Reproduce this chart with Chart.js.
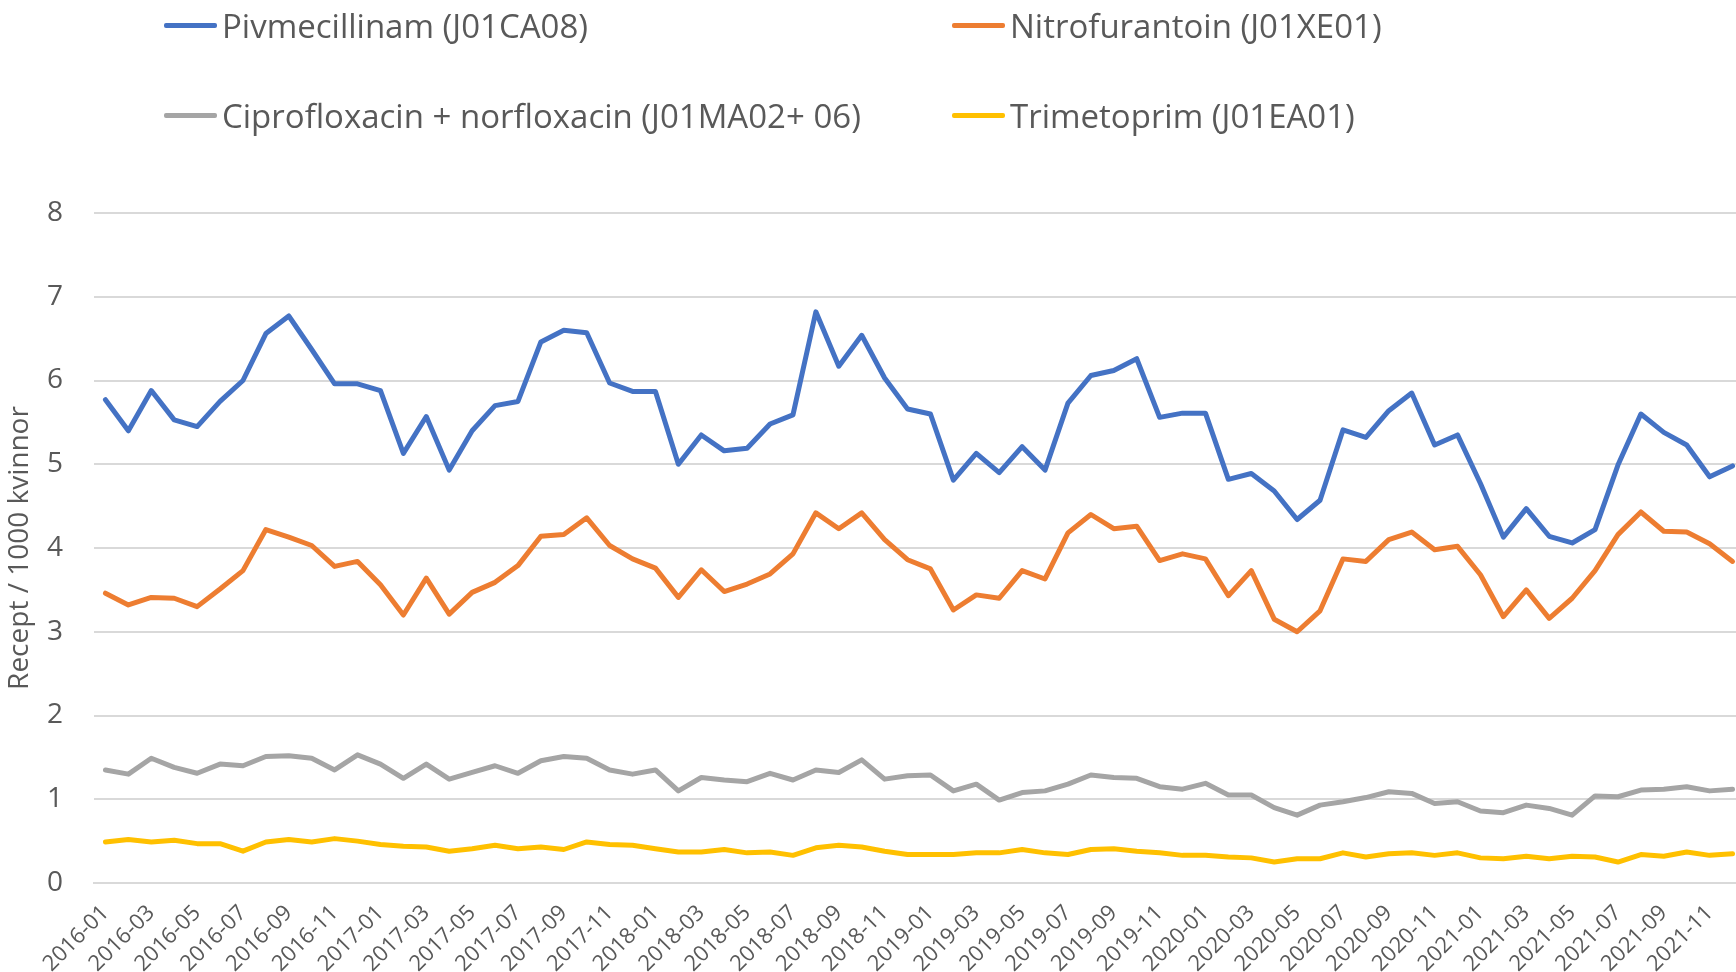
<!DOCTYPE html>
<html>
<head>
<meta charset="utf-8">
<script src="https://cdn.jsdelivr.net/npm/chart.js@4.4.0/dist/chart.umd.min.js"></script>
<style>
  html, body { margin: 0; padding: 0; background: #fff; overflow: hidden; }
  #wrap { position: relative; width: 1744px; height: 972px; }
  #legend { position: absolute; left: 0; top: 0; font-family: "Open Sans", sans-serif; font-size: 33px; color: #595959; }
  .item { position: absolute; display: flex; align-items: center; white-space: nowrap; height: 40px; }
  .swatch { width: 53px; height: 5px; margin-right: 5px; border-radius: 2px; }
</style>
</head>
<body>
<div id="wrap">
  <canvas id="myChart"></canvas>
  <div id="legend"></div>
</div>
<script>
var months = [
  '2016-01','2016-02','2016-03','2016-04','2016-05','2016-06','2016-07','2016-08','2016-09','2016-10','2016-11','2016-12',
  '2017-01','2017-02','2017-03','2017-04','2017-05','2017-06','2017-07','2017-08','2017-09','2017-10','2017-11','2017-12',
  '2018-01','2018-02','2018-03','2018-04','2018-05','2018-06','2018-07','2018-08','2018-09','2018-10','2018-11','2018-12',
  '2019-01','2019-02','2019-03','2019-04','2019-05','2019-06','2019-07','2019-08','2019-09','2019-10','2019-11','2019-12',
  '2020-01','2020-02','2020-03','2020-04','2020-05','2020-06','2020-07','2020-08','2020-09','2020-10','2020-11','2020-12',
  '2021-01','2021-02','2021-03','2021-04','2021-05','2021-06','2021-07','2021-08','2021-09','2021-10','2021-11','2021-12'
];

var pivmecillinam = [
  5.77,5.40,5.88,5.53,5.45,5.75,6.00,6.56,6.77,6.37,5.96,5.96,
  5.88,5.13,5.57,4.93,5.40,5.70,5.75,6.46,6.60,6.57,5.97,5.87,
  5.87,5.00,5.35,5.16,5.19,5.48,5.59,6.82,6.17,6.54,6.03,5.66,
  5.60,4.81,5.13,4.90,5.21,4.93,5.73,6.06,6.12,6.26,5.56,5.61,
  5.61,4.82,4.89,4.68,4.34,4.57,5.41,5.32,5.64,5.85,5.23,5.35,
  4.77,4.13,4.47,4.14,4.06,4.22,4.99,5.60,5.38,5.23,4.85,4.98
];
var nitrofurantoin = [
  3.46,3.32,3.41,3.40,3.30,3.51,3.73,4.22,4.13,4.03,3.78,3.84,
  3.56,3.20,3.64,3.21,3.47,3.59,3.79,4.14,4.16,4.36,4.03,3.87,
  3.76,3.41,3.74,3.48,3.57,3.69,3.93,4.42,4.23,4.42,4.10,3.86,
  3.75,3.26,3.44,3.40,3.73,3.63,4.18,4.40,4.23,4.26,3.85,3.93,
  3.87,3.43,3.73,3.15,3.00,3.25,3.87,3.84,4.10,4.19,3.98,4.02,
  3.68,3.18,3.50,3.16,3.40,3.73,4.16,4.43,4.20,4.19,4.05,3.84
];
var ciprofloxacin = [
  1.35,1.30,1.49,1.38,1.31,1.42,1.40,1.51,1.52,1.49,1.35,1.53,
  1.42,1.25,1.42,1.24,1.32,1.40,1.31,1.46,1.51,1.49,1.35,1.30,
  1.35,1.10,1.26,1.23,1.21,1.31,1.23,1.35,1.32,1.47,1.24,1.28,
  1.29,1.10,1.18,0.99,1.08,1.10,1.18,1.29,1.26,1.25,1.15,1.12,
  1.19,1.05,1.05,0.90,0.81,0.93,0.97,1.02,1.09,1.07,0.95,0.97,
  0.86,0.84,0.93,0.89,0.81,1.04,1.03,1.11,1.12,1.15,1.10,1.12
];
var trimetoprim = [
  0.49,0.52,0.49,0.51,0.47,0.47,0.38,0.49,0.52,0.49,0.53,0.50,
  0.46,0.44,0.43,0.38,0.41,0.45,0.41,0.43,0.40,0.49,0.46,0.45,
  0.41,0.37,0.37,0.40,0.36,0.37,0.33,0.42,0.45,0.43,0.38,0.34,
  0.34,0.34,0.36,0.36,0.40,0.36,0.34,0.40,0.41,0.38,0.36,0.33,
  0.33,0.31,0.30,0.25,0.29,0.29,0.36,0.31,0.35,0.36,0.33,0.36,
  0.30,0.29,0.32,0.29,0.32,0.31,0.25,0.34,0.32,0.37,0.33,0.35
];

var seriesNames = [
  'Pivmecillinam (J01CA08)',
  'Nitrofurantoin (J01XE01)',
  'Ciprofloxacin + norfloxacin (J01MA02+ 06)',
  'Trimetoprim (J01EA01)'
];
var seriesColors = ['#4472C4', '#ED7D31', '#A5A5A5', '#FFC000'];
var seriesData = [pivmecillinam, nitrofurantoin, ciprofloxacin, trimetoprim];

var textColor = '#595959';
var gridColor = '#d9d9d9';
var fontFamily = '"Open Sans", sans-serif';

var datasets = seriesNames.map(function (name, i) {
  return {
    label: name,
    data: seriesData[i],
    borderColor: seriesColors[i],
    backgroundColor: seriesColors[i],
    borderWidth: 5,
    pointRadius: 0,
    tension: 0,
    fill: false,
    borderJoinStyle: 'round',
    borderCapStyle: 'round'
  };
});

// legend in two columns, like the original
var legendPos = [[164, 5], [952, 5], [164, 95], [952, 95]];
var legendEl = document.getElementById('legend');
datasets.forEach(function (ds, i) {
  var item = document.createElement('div');
  item.className = 'item';
  item.style.left = legendPos[i][0] + 'px';
  item.style.top = legendPos[i][1] + 'px';
  var sw = document.createElement('span');
  sw.className = 'swatch';
  sw.style.background = ds.borderColor;
  var txt = document.createElement('span');
  txt.textContent = ds.label;
  item.appendChild(sw);
  item.appendChild(txt);
  legendEl.appendChild(item);
});

var ctx = document.getElementById('myChart').getContext('2d');
var myChart = new Chart(ctx, {
  type: 'line',
  data: {
    labels: months,
    datasets: datasets
  },
  options: {
    responsive: true,
    maintainAspectRatio: false,
    animation: false,
    layout: { padding: { top: 213, left: 0, right: 0, bottom: 0 } },
    plugins: {
      legend: { display: false },
      tooltip: { enabled: false }
    },
    scales: {
      x: {
        offset: true,
        grid: { display: false, drawTicks: false },
        border: { display: true, color: gridColor, width: 2 },
        ticks: {
          autoSkip: false,
          minRotation: 45,
          maxRotation: 45,
          padding: 17,
          color: textColor,
          font: { family: fontFamily, size: 22 },
          callback: function (v, i) { return i % 2 === 0 ? months[i] : ''; }
        },
        afterFit: function (s) { s.height = 89; s.paddingLeft = 0; s.paddingRight = 0; }
      },
      y: {
        min: 0,
        max: 8,
        grid: { color: gridColor, lineWidth: 2, drawTicks: false },
        border: { display: false },
        ticks: {
          stepSize: 1,
          padding: 31,
          color: textColor,
          font: { family: fontFamily, size: 28 }
        },
        title: {
          display: true,
          text: 'Recept / 1000 kvinnor',
          color: textColor,
          padding: { top: 3, bottom: 0 },
          font: { family: fontFamily, size: 28 }
        },
        afterFit: function (s) { s.width = 94; }
      }
    }
  }
});
</script>
</body>
</html>
